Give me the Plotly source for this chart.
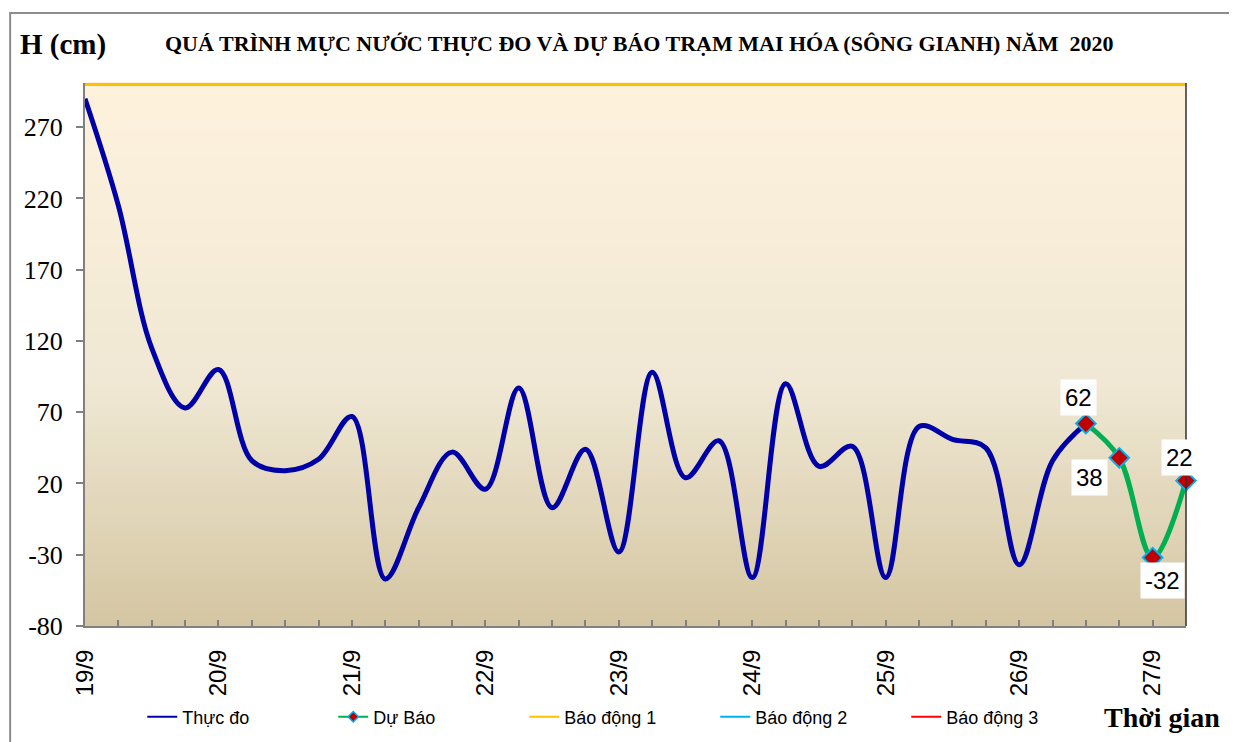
import plotly.graph_objects as go

# moc thoi gian 6 gio / diem, 19/9 00h -> 27/9 06h
day_labels = ['19/9', '20/9', '21/9', '22/9', '23/9', '24/9', '25/9', '26/9', '27/9']
steps_per_day = 4
n_points = 34

thuc_do = [290, 215, 115, 73, 100, 36, 29, 37, 67, -47, 3, 42, 16, 87, 3, 44,
           -28, 98, 24, 50, -46, 90, 32, 46, -46, 60, 51, 45, -37, 36, 62]
du_bao = [62, 38, -32, 22]
du_bao_start = 30

bao_dong_1 = 300
bao_dong_2 = 450
bao_dong_3 = 600

y_ticks = [-80, -30, 20, 70, 120, 170, 220, 270]
y_ticktext = ['-80', '-30', '20', '70', '120', '170', '220', '270']

x_all = list(range(n_points))
x_thuc_do = x_all[:len(thuc_do)]
x_du_bao = x_all[du_bao_start:du_bao_start + len(du_bao)]

fig = go.Figure()

fig.add_trace(go.Scatter(x=x_thuc_do, y=thuc_do, name='Thực đo', mode='lines', showlegend=False,
                         line=dict(color='#0000A8', width=5, shape='spline', smoothing=1.0)))
fig.add_trace(go.Scatter(x=x_du_bao, y=du_bao, name='Dự Báo', mode='lines+markers', showlegend=False,
                         line=dict(color='#00B050', width=5, shape='spline', smoothing=1.0),
                         marker=dict(symbol='diamond', size=15, color='#C00000',
                                     line=dict(color='#00B0F0', width=2)),
                         cliponaxis=False))
fig.add_trace(go.Scatter(x=[x_all[0], x_all[-1]], y=[bao_dong_1] * 2, name='Báo động 1', mode='lines',
                         showlegend=False, line=dict(color='#FFC000', width=3)))
fig.add_trace(go.Scatter(x=[x_all[0], x_all[-1]], y=[bao_dong_2] * 2, name='Báo động 2', mode='lines',
                         showlegend=False, line=dict(color='#00B0F0', width=3)))
fig.add_trace(go.Scatter(x=[x_all[0], x_all[-1]], y=[bao_dong_3] * 2, name='Báo động 3', mode='lines',
                         showlegend=False, line=dict(color='#FF0000', width=3)))

# chu giai (net manh nhu Excel)
legend_items = [('Thực đo', '#0000A8', None), ('Dự Báo', '#00B050', '#C00000'),
                ('Báo động 1', '#FFC000', None), ('Báo động 2', '#00B0F0', None),
                ('Báo động 3', '#FF0000', None)]
for name, color, mcolor in legend_items:
    fig.add_trace(go.Scatter(x=[None], y=[None], name=name,
                             mode='lines+markers' if mcolor else 'lines',
                             line=dict(color=color, width=2),
                             marker=dict(symbol='diamond', size=8, color=mcolor or color,
                                         line=dict(color='#00B0F0', width=1.5))))

# nhan so lieu du bao (vi tri lech so voi diem)
label_offsets = [(-7, -26), (-30, 20), (10, 23), (-7, -23)]
for xv, yv, (ax, ay) in zip(x_du_bao, du_bao, label_offsets):
    fig.add_annotation(x=xv, y=yv, text=str(yv), showarrow=False, xshift=ax, yshift=-ay,
                       bgcolor='white', borderpad=4,
                       font=dict(family='Liberation Sans, Arial', size=24, color='black'))

# nen chuyen mau (gradient) cho vung ve
stops = [(0.0, (212, 198, 162)), (0.45, (240, 232, 212)), (1.0, (254, 242, 221))]
n_bands = 80
for k in range(n_bands):
    t = (k + 0.5) / n_bands
    for (t0, c0), (t1, c1) in zip(stops[:-1], stops[1:]):
        if t0 <= t <= t1:
            f = (t - t0) / (t1 - t0)
            c = tuple(round(a + (b - a) * f) for a, b in zip(c0, c1))
            break
    fig.add_shape(type='rect', xref='x domain', yref='y domain', x0=0, x1=1,
                  y0=k / n_bands, y1=(k + 1) / n_bands + 0.002,
                  fillcolor='rgb(%d,%d,%d)' % c, line_width=0, layer='below')

# vien phai vung ve
fig.add_shape(type='line', xref='x domain', yref='y domain', x0=1, x1=1, y0=0, y1=1,
              line=dict(color='#303030', width=1.5))
# khung ngoai bieu do
fig.add_shape(type='rect', xref='paper', yref='paper', x0=-0.068, x1=1.2, y0=-0.4, y1=1.129,
              line=dict(color='#8C8C8C', width=2), layer='below')

tickvals = x_all
ticktext = [day_labels[i // steps_per_day] if i % steps_per_day == 0 else '' for i in x_all]

fig.update_layout(
    width=1229, height=734,
    margin=dict(l=77, r=51, t=75, b=116),
    paper_bgcolor='white', plot_bgcolor='rgba(0,0,0,0)',
    showlegend=True,
    legend=dict(orientation='h', x=0.052, y=0.034, xref='paper', yref='container',
                xanchor='left', yanchor='middle',
                font=dict(family='Liberation Sans, Arial', size=18, color='black'),
                entrywidth=146, bgcolor='rgba(0,0,0,0)'),
    xaxis=dict(range=[0, n_points - 1], tickmode='array', tickvals=tickvals, ticktext=ticktext,
               ticks='inside', ticklen=6, tickcolor='#808080', tickwidth=1.5,
               tickangle=-90, ticklabelstandoff=12, automargin=False,
               tickfont=dict(family='Liberation Sans, Arial', size=24, color='black'),
               showline=True, linecolor='#808080', linewidth=2, showgrid=False, zeroline=False),
    yaxis=dict(range=[-80, 301], tickmode='array', tickvals=y_ticks, ticktext=y_ticktext,
               ticks='outside', ticklen=7, tickcolor='#808080', tickwidth=1.5, automargin=False,
               ticklabelstandoff=8,
               tickfont=dict(family='Liberation Serif, Times New Roman', size=26, color='black'),
               showline=True, linecolor='#808080', linewidth=2, showgrid=False, zeroline=False),
)

fig.add_annotation(text='<b>QUÁ TRÌNH MỰC NƯỚC THỰC ĐO VÀ DỰ BÁO TRẠM MAI HÓA (SÔNG GIANH) NĂM  2020</b>',
                   xref='paper', yref='paper', x=0.503, y=1.072, showarrow=False,
                   xanchor='center', yanchor='middle',
                   font=dict(family='Liberation Serif, Times New Roman', size=22, color='black'))
fig.add_annotation(text='<b>H (cm)</b>', xref='paper', yref='paper', x=-0.061, y=1.07,
                   showarrow=False, xanchor='left', yanchor='middle',
                   font=dict(family='Liberation Serif, Times New Roman', size=29, color='black'))
fig.add_annotation(text='<b>Thời gian</b>', xref='paper', yref='paper', x=1.033, y=-0.168,
                   showarrow=False, xanchor='right', yanchor='middle',
                   font=dict(family='Liberation Serif, Times New Roman', size=28, color='black'))

fig.write_html('out.html')
